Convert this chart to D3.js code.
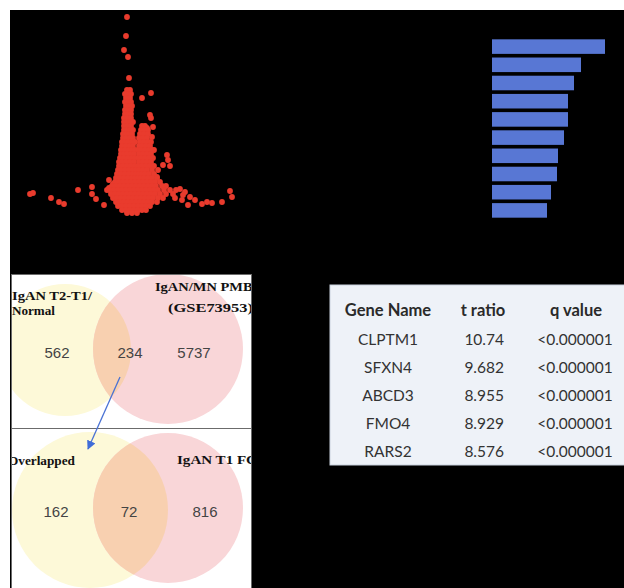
<!DOCTYPE html>
<html><head><meta charset="utf-8">
<script src="https://cdn.jsdelivr.net/npm/d3@7"></script>
<style>html,body{margin:0;padding:0;background:#fff;}svg{display:block;}</style>
</head><body>
<script>
// ---------- DATA ----------
// Volcano plot: isolated points [t statistic, -log10 q]
const volcanoSparse = [
  [-0.3,19.8],[-0.4,17.9],[-0.6,16.5],[-0.2,15.8],[-0.1,13.7],
  [2.1,12.2],[1.2,11.7],[2.0,10.0],[2.1,9.7],[2.3,8.8],[1.7,8.7],[2.2,7.8],[2.4,6.5],
  [3.7,6.0],[3.8,5.5],[4.0,4.9],[3.3,5.0],[2.8,4.5],[2.7,3.8],
  [4.6,2.5],[5.0,2.6],[5.3,2.0],[5.5,2.3],[6.0,1.8],[6.5,1.5],[5.8,1.0],[7.2,1.1],
  [7.7,1.3],[8.2,1.2],[9.2,1.3],[10.0,2.4],[10.2,1.8],[5.2,1.5],[4.5,1.7],
  [-10.0,2.1],[-9.7,2.2],[-7.9,1.7],[-7.1,1.3],[-6.6,1.1],[-5.2,2.5],[-3.8,2.8],
  [-3.8,2.1],[-3.4,1.6],[-2.6,1.0],[-2.3,2.5],[-2.1,3.5],[-1.7,3.1],[-2.1,2.7]
];
// Volcano plot: dense region, rows of [-log10 q, [t statistics...]]
const volcanoDense = [
  [12.5,[-0.3,0.0]],[12.1,[-0.5,-0.1,0.1]],[11.7,[-0.4,0.0]],[11.3,[-0.5,-0.2,0.1]],
  [10.9,[-0.4,0.0,0.2]],[10.5,[-0.5,-0.2,0.1]],[10.1,[-0.5,-0.2,0.1]],[9.7,[-0.6,-0.3,0.1]],
  [9.3,[-0.6,-0.3,0.0,0.3]],[8.9,[-0.6,-0.3,0.1,1.2,1.5]],[8.5,[-0.6,-0.3,0.0,0.3,1.1,1.5,1.8]],
  [8.1,[-0.7,-0.4,-0.1,0.2,1.0,1.4,1.8]],[7.7,[-0.7,-0.4,0.0,0.3,0.9,1.3,1.7]],
  [7.3,[-0.8,-0.5,-0.2,0.2,0.5,1.0,1.4,1.8,2.1]],[6.9,[-0.8,-0.4,0.0,0.3,0.9,1.2,1.6,2.0]],
  [6.5,[-0.9,-0.5,-0.1,0.2,0.5,0.8,1.1,1.5,1.9,2.2]],[6.1,[-0.9,-0.6,-0.3,0.1,0.4,0.9,1.3,1.7,2.1]],
  [5.7,[-1.0,-0.6,-0.2,0.2,0.5,0.8,1.1,1.5,1.9,2.3]],[5.3,[-1.1,-0.8,-0.4,0.0,0.4,0.9,1.3,1.7,2.1]],
  [4.9,[-1.1,-0.7,-0.3,0.1,0.5,0.8,1.2,1.6,2.0,2.4]],[4.5,[-1.2,-0.9,-0.5,-0.1,0.3,0.6,0.9,1.3,1.7,2.2]],
  [4.1,[-1.3,-0.9,-0.5,-0.1,0.3,0.6,0.9,1.2,1.5,1.9,2.4]],
  [3.7,[-1.4,-1.0,-0.6,-0.2,0.2,0.5,0.8,1.1,1.4,1.8,2.2,2.7]],
  [3.3,[-1.5,-1.1,-0.7,-0.3,0.1,0.5,0.9,1.3,1.7,2.1,2.5,3.0]],
  [2.9,[-1.8,-1.4,-1.0,-0.6,-0.2,0.2,0.6,1.0,1.4,1.8,2.2,2.6,3.2,3.6]],
  [2.5,[-2.0,-1.6,-1.2,-0.8,-0.4,0.0,0.4,0.8,1.2,1.6,2.0,2.4,2.8,3.4,4.0]],
  [2.1,[-1.9,-1.5,-1.1,-0.7,-0.3,0.1,0.5,0.9,1.3,1.7,2.1,2.5,3.0,3.6,4.3]],
  [1.7,[-1.7,-1.3,-0.9,-0.5,-0.1,0.3,0.7,1.1,1.5,1.9,2.3,2.8,3.3]],
  [1.3,[-1.4,-1.0,-0.6,-0.2,0.2,0.6,1.0,1.4,1.8,2.2,2.7]],
  [0.9,[-1.2,-0.8,-0.4,0.0,0.4,0.8,1.2,1.6,2.0]],
  [0.5,[-0.8,-0.4,0.0,0.4,0.8,1.2,1.6]],
  [0.2,[-0.3,0.2,0.7]]
];

// Bar chart (labels not visible in reference)
const barCategories = ["B1","B2","B3","B4","B5","B6","B7","B8","B9","B10"];
const barValues = [11.3, 8.9, 8.2, 7.6, 7.6, 7.2, 6.6, 6.5, 5.9, 5.5];

// Venn diagrams
const venn1Labels = ["IgAN T2-T1/", "Normal", "IgAN/MN PMBC", "(GSE73953)"];
const venn1Counts = [562, 234, 5737];
const venn2Labels = ["Overlapped", "IgAN T1 FC"];
const venn2Counts = [162, 72, 816];

// Table
const tableHeader = ["Gene Name", "t ratio", "q value"];
const geneNames = ["CLPTM1", "SFXN4", "ABCD3", "FMO4", "RARS2"];
const tRatios = ["10.74", "9.682", "8.955", "8.929", "8.576"];
const qValues = ["<0.000001", "<0.000001", "<0.000001", "<0.000001", "<0.000001"];

// ---------- DRAW ----------
const W = 624, H = 588;
const svg = d3.select("body").append("svg").attr("width", W).attr("height", H);
const defs = svg.append("defs");

svg.append("rect").attr("x",0).attr("y",0).attr("width",W).attr("height",H).attr("fill","#ffffff");
svg.append("rect").attr("x",10).attr("y",10).attr("width",W-10).attr("height",H-10).attr("fill","#000000");

// Volcano
const vx = d3.scaleLinear().domain([-10, 10.5]).range([30, 235]);
const vy = d3.scaleLinear().domain([0, 20]).range([215, 15]);
const volcanoPoints = volcanoSparse.concat(
  volcanoDense.flatMap(([y, xs]) => xs.map(x => [x, y]))
);
svg.append("g").selectAll("circle").data(volcanoPoints).join("circle")
  .attr("cx", d => vx(d[0])).attr("cy", d => vy(d[1])).attr("r", 2.9)
  .attr("fill", "#e93b2d");

// Bars
const bx = d3.scaleLinear().domain([0, 11.3]).range([492, 605]);
const by = d3.scaleBand().domain(barCategories).range([37.5, 219.5]).paddingInner(0.2).paddingOuter(0.1);
svg.append("g").selectAll("rect").data(barValues).join("rect")
  .attr("x", bx(0)).attr("y", (d,i) => by(barCategories[i]))
  .attr("width", d => bx(d) - bx(0)).attr("height", by.bandwidth())
  .attr("fill", "#5877d4");

// Venn panels
function venn(id, panel, cA, cB, labels, counts, countY) {
  defs.append("clipPath").attr("id", "panel"+id).append("rect")
    .attr("x", panel.x).attr("y", panel.y).attr("width", panel.w).attr("height", panel.h);
  defs.append("clipPath").attr("id", "circA"+id).append("circle")
    .attr("cx", cA.cx).attr("cy", cA.cy).attr("r", cA.r);
  const g = svg.append("g");
  g.append("rect").attr("x", panel.x).attr("y", panel.y).attr("width", panel.w).attr("height", panel.h)
    .attr("fill", "#ffffff");
  const c = g.append("g").attr("clip-path", `url(#panel${id})`);
  c.append("circle").attr("cx", cA.cx).attr("cy", cA.cy).attr("r", cA.r).attr("fill", "#fdf9d8");
  c.append("circle").attr("cx", cB.cx).attr("cy", cB.cy).attr("r", cB.r).attr("fill", "#f9d6d8");
  c.append("g").attr("clip-path", `url(#circA${id})`)
    .append("circle").attr("cx", cB.cx).attr("cy", cB.cy).attr("r", cB.r).attr("fill", "#f8d0b0");
  labels.forEach(l => {
    c.append("text").attr("x", l.x).attr("y", l.y).text(l.t)
      .attr("font-family", "'Liberation Serif', 'Times New Roman', serif")
      .attr("font-weight", "bold").attr("font-size", 13.5).attr("fill", "#111")
      .attr("textLength", l.len).attr("lengthAdjust", "spacingAndGlyphs");
  });
  counts.forEach((v, i) => {
    c.append("text").attr("x", countY.xs[i]).attr("y", countY.y).text(v)
      .attr("text-anchor", "middle")
      .attr("font-family", "'Liberation Sans', Arial, sans-serif")
      .attr("font-size", 15).attr("fill", "#444");
  });
  g.append("rect").attr("x", panel.x + 0.5).attr("y", panel.y + 0.5).attr("width", panel.w - 1).attr("height", panel.h)
    .attr("fill", "none").attr("stroke", "#6b6b6b").attr("stroke-width", 1);
}

venn(1, {x: 11, y: 274, w: 241, h: 154}, {cx: 65, cy: 350, r: 66}, {cx: 168, cy: 349, r: 75},
  [{t: venn1Labels[0], x: 12, y: 300, len: 80}, {t: venn1Labels[1], x: 12, y: 315, len: 43},
   {t: venn1Labels[2], x: 155, y: 291, len: 108}, {t: venn1Labels[3], x: 168, y: 312, len: 85}],
  venn1Counts, {y: 358, xs: [57, 130, 194]});

venn(2, {x: 11, y: 428, w: 241, h: 170}, {cx: 90, cy: 510, r: 78}, {cx: 168, cy: 508, r: 75},
  [{t: venn2Labels[0], x: 8, y: 465, len: 67}, {t: venn2Labels[1], x: 177, y: 464, len: 80}],
  venn2Counts, {y: 517, xs: [56, 129, 205]});

// Arrow
defs.append("marker").attr("id", "arrow").attr("viewBox", "0 0 10 10").attr("refX", 9).attr("refY", 5)
  .attr("markerWidth", 7).attr("markerHeight", 7).attr("orient", "auto")
  .append("path").attr("d", "M0,0 L10,5 L0,10 z").attr("fill", "#3f6cd8");
svg.append("line").attr("x1", 120).attr("y1", 377).attr("x2", 88).attr("y2", 449)
  .attr("stroke", "#4a72d4").attr("stroke-width", 1.3).attr("marker-end", "url(#arrow)");

// Table
const tg = svg.append("g");
tg.append("rect").attr("x", 330).attr("y", 285).attr("width", 310).attr("height", 180)
  .attr("fill", "#eef2f8").attr("stroke", "#c9d2de").attr("stroke-width", 1);
const font = "Lato, 'Open Sans', sans-serif";
const colX = [388, 483, 576];
tableHeader.forEach((h, i) => {
  tg.append("text").attr("x", colX[i]).attr("y", 316).text(h)
    .attr("text-anchor", "middle").attr("font-family", font).attr("font-weight", "bold")
    .attr("font-size", 16.5).attr("fill", "#2a2a2a");
});
const rowY = d3.scalePoint().domain(geneNames).range([345, 457]);
geneNames.forEach((g, i) => {
  const y = rowY(g);
  tg.append("text").attr("x", colX[0]).attr("y", y).text(g).attr("text-anchor", "middle")
    .attr("font-family", font).attr("font-size", 15.5).attr("fill", "#333");
  tg.append("text").attr("x", 504).attr("y", y).text(tRatios[i]).attr("text-anchor", "end")
    .attr("font-family", font).attr("font-size", 15.5).attr("fill", "#333");
  tg.append("text").attr("x", 575).attr("y", y).text(qValues[i]).attr("text-anchor", "middle")
    .attr("font-family", font).attr("font-size", 15.5).attr("fill", "#333");
});
</script>
</body></html>
